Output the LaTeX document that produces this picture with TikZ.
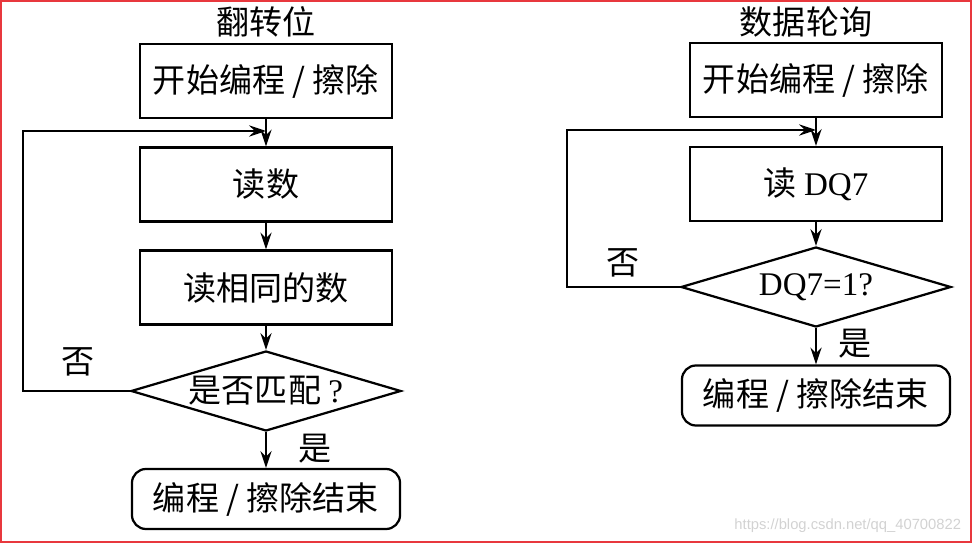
\documentclass[tikz,border=0pt]{standalone}
\usepackage{fontspec}
\setmainfont{Liberation Serif}
\newfontfamily\cjk{Noto Sans CJK SC}
\newfontfamily\wmfont{Liberation Sans}
\usetikzlibrary{shapes.geometric,arrows.meta}
\definecolor{framered}{RGB}{232,56,61}

\tikzset{
	txt/.style={font=\cjk\fontsize{23.5}{27}\selectfont},
	box/.style={txt, draw, line width=1.6pt, minimum width=6.3cm, minimum height=1.85cm, inner sep=0pt},
	endbox/.style={box, rounded corners=0.35cm, minimum width=6.7cm, minimum height=1.5cm},
	test/.style={txt, draw, diamond, aspect=3.4, line width=1.6pt, minimum width=6.75cm, minimum height=2cm, inner sep=0pt},
	flow/.style={line width=1.6pt, -{Stealth[length=4.2mm,width=2.8mm,inset=1.4mm]}}
}

\begin{document}
\begin{tikzpicture}[x=0.025cm, y=-0.025cm]
	\useasboundingbox (0,0) rectangle (976,544);
	\draw[framered, line width=0.05cm] (1,1) rectangle (971,542);

\begin{scope}[shift={(266,0)}]
	\node[txt] (ltitle) at (0,22) {翻转位};
	\node[box] (lstart) at (0,81) {开始编程 / 擦除};
	\node[box] (lread) at (0,184.5) {读数};
	\node[box] (lsame) at (0,287.5) {读相同的数};
	\node[test] (lmatch) at (0,391) {是否匹配 {\fontspec{Liberation Serif}?}};
	\node[endbox] (ldone) at (0,499) {编程 / 擦除结束};
	\node[txt] (lno) at (-188,362) {否};
	\node[txt] (lyes) at (49,449) {是};
	\coordinate (lcorner) at (-243,131);
	\coordinate (ljoin) at (0,131);
	
	\draw[flow] (lstart) -- (lread);
	\draw[flow] (lread) -- (lsame);
	\draw[flow] (lsame) -- (lmatch);
	\draw[flow] (lmatch) -- (ldone);
	\draw[flow] (lmatch.west) -| (lcorner) -- (ljoin);
\end{scope}

\begin{scope}[shift={(816,0)}]
	\node[txt] (rtitle) at (-10,22) {数据轮询};
	\node[box] (rstart) at (0,80) {开始编程 / 擦除};
	\node[box] (rread) at (0,184) {{\cjk 读} \fontspec{Liberation Serif}DQ7};
	\node[test] (rbit) at (0,287) {\fontspec{Liberation Serif}DQ7=1?};
	\node[endbox] (rdone) at (0,395.5) {编程 / 擦除结束};
	\node[txt] (rno) at (-193,263) {否};
	\node[txt] (ryes) at (39,344) {是};
	\coordinate (rcorner) at (-249,130);
	\coordinate (rjoin) at (0,130);
	
	\draw[flow] (rstart) -- (rread);
	\draw[flow] (rread) -- (rbit);
	\draw[flow] (rbit) -- (rdone);
	\draw[flow] (rbit.west) -| (rcorner) -- (rjoin);
\end{scope}

	\node[anchor=east, text=gray!35, font=\wmfont\fontsize{10.5}{12}\selectfont] (mark) at (966,526) {https://blog.csdn.net/qq\_40700822};
\end{tikzpicture}
\end{document}
